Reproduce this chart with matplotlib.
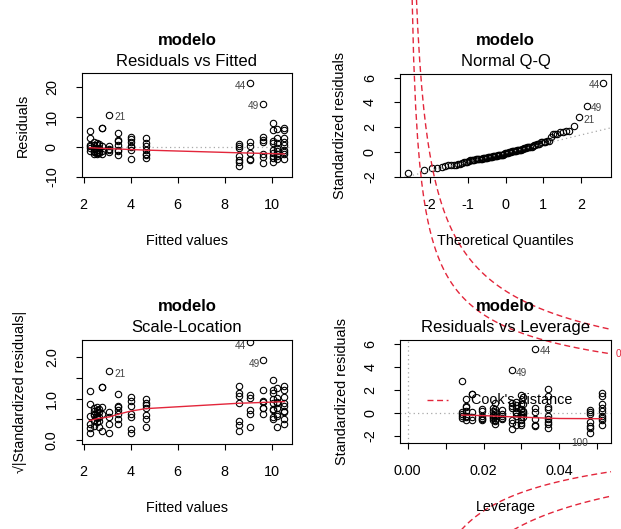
import math
import numpy as np
import matplotlib
matplotlib.use('Agg')
import matplotlib.pyplot as plt

plt.rcParams['font.family'] = ['Liberation Sans', 'DejaVu Sans']
plt.rcParams['axes.unicode_minus'] = False

## -----------------------------------------------------------------------------
## data (lm diagnostics of "modelo", n = 100)

group_fitted = [2.25, 2.45, 2.55, 2.65, 2.80, 3.10, 3.45, 4.00, 4.65,
                8.60, 9.10, 9.65, 10.05, 10.25, 10.55]
group_hat = [0.0305, 0.0226, 0.0195, 0.0248, 0.0169, 0.0142, 0.0153, 0.0286, 0.0230,
             0.0481, 0.0336, 0.0274, 0.0371, 0.0300, 0.0512]
group_std_resid = [
    [1.42, 0.76, -0.35, 0.15, -0.08, 0.03],
    [0.40, 0.12, -0.22, -0.36, -0.48, -0.60],
    [0.30, 0.18, -0.28, -0.42, -0.52, -0.64],
    [0.22, -0.10, -0.30, -0.45, -0.58],
    [1.66, 1.64, 0.05, -0.40, -0.62],
    [-0.47, -0.32, -0.15, 0.03],
    [1.23, 0.62, 0.52, 0.15, -0.26, -0.40, -0.67],
    [0.90, 0.67, 0.40, -0.31, 0.07, -0.03, -1.06],
    [0.81, 0.36, 0.10, -0.27, -0.59, -0.72, -0.97],
    [0.21, 0.05, -0.13, -0.79, -1.14, -1.31],
    [0.40, 0.10, -0.53, -1.05, -1.19],
    [0.85, 0.60, 0.40, -0.60, -0.90, -1.45],
    [2.08, 1.44, 0.53, 0.30, -0.25, -0.56, -0.80, -1.00, -1.30],
    [1.57, 0.80, 0.35, -0.10, -0.40, -0.60, -0.85, -1.05],
    [1.70, 1.45, 0.80, 0.45, 0.15, -0.26, -0.50, -0.66, -1.06],
]

# labelled observations
id_labels = ['21', '44', '49', '100']
id_group = [5, 10, 11, 9]
id_std_resid = [2.78, 5.60, 3.73, -1.73]

sigma = 3.87          # residual standard error
n_params = 3
cook_levels = [0.5, 1.0]

smooth_fit_x = [2.25, 3.0, 4.0, 4.65, 8.6, 9.65, 10.55]
smooth_fit_y = [-0.3, -0.6, -0.9, -1.1, -2.0, -2.2, -2.4]
smooth_scale_x = [2.25, 2.6, 3.1, 3.45, 4.0, 4.65, 8.6, 9.65, 10.55]
smooth_scale_y = [0.47, 0.52, 0.56, 0.62, 0.70, 0.76, 0.89, 0.91, 0.93]
smooth_lev_x = [0.0142, 0.02, 0.025, 0.03, 0.035, 0.04, 0.0512]
smooth_lev_y = [-0.2, -0.25, -0.32, -0.38, -0.45, -0.5, -0.52]

## -----------------------------------------------------------------------------
## assemble

fitted, hat, rstd = [], [], []
for f, h, rs in zip(group_fitted, group_hat, group_std_resid):
    fitted += [f] * len(rs)
    hat += [h] * len(rs)
    rstd += rs
for g, r in zip(id_group, id_std_resid):
    fitted.append(group_fitted[g])
    hat.append(group_hat[g])
    rstd.append(r)
fitted = np.array(fitted)
hat = np.array(hat)
rstd = np.array(rstd)
resid = rstd * sigma * np.sqrt(1 - hat)
n = len(rstd)
nid = len(id_labels)
idx_id = np.arange(n - nid, n)


def qnorm(p):
    lo, hi = -8.0, 8.0
    for _ in range(60):
        mid = 0.5 * (lo + hi)
        if 0.5 * (1 + math.erf(mid / math.sqrt(2))) < p:
            lo = mid
        else:
            hi = mid
    return 0.5 * (lo + hi)


order = np.argsort(rstd)
theo = np.array([qnorm((i - 0.5) / n) for i in range(1, n + 1)])
qq_x = np.empty(n)
qq_x[order] = theo

## -----------------------------------------------------------------------------
## figure

W, H = 621, 529
fig = plt.figure(figsize=(W / 100, H / 100), dpi=100)
RED = '#e3263b'
GRAY = '#a8a8a8'
FS = 10.4


def box(l, t, r, b):
    ax = fig.add_axes([l / W, 1 - b / H, (r - l) / W, (b - t) / H])
    for s in ax.spines.values():
        s.set_linewidth(0.8)
    ax.tick_params(direction='out', length=4.1, width=0.8, labelsize=FS, pad=11)
    ax.tick_params(axis='y', pad=12.5)
    return ax


def ftext(x, y, s, **kw):
    fig.text(x / W, 1 - y / H, s, **kw)


def frame(ax, l, t, r, b, title, xlab, ylab, ylab_x):
    cx = (l + r) / 2
    ftext(cx, t - 33, 'modelo', ha='center', va='center', fontsize=12, fontweight='bold')
    ftext(cx, t - 12, title, ha='center', va='center', fontsize=12)
    ftext(cx, b + 64, xlab, ha='center', va='center', fontsize=FS)
    ftext(ylab_x, (t + b) / 2, ylab, ha='center', va='center', rotation=90, fontsize=FS)


def yticks(ax, ticks, labels):
    ax.set_yticks(ticks, labels)
    plt.setp(ax.get_yticklabels(), rotation=90, va='center')


def points(ax, x, y):
    ax.plot(x, y, 'o', mfc='none', mec='black', ms=4.6, mew=0.8)


def ids(ax, x, y, offsets):
    for lab, i in zip(id_labels, idx_id):
        if lab in offsets:
            dx, dy = offsets[lab]
            ax.annotate(lab, (x[i], y[i]), xytext=(dx * 0.72, -dy * 0.72),
                        textcoords='offset points', ha='center', va='center',
                        fontsize=7.2, color='#444444', annotation_clip=False)


## panel 1: residuals vs fitted
ax1 = box(82, 73, 292, 177)
ax1.axhline(0, color=GRAY, lw=0.9, ls=(0, (1, 2.5)))
points(ax1, fitted, resid)
ax1.plot(smooth_fit_x, smooth_fit_y, color=RED, lw=1)
ax1.set_xlim(1.93, 10.87)
ax1.set_ylim(-10.1, 24.7)
ax1.set_xticks([2, 4, 6, 8, 10])
yticks(ax1, [-10, 0, 10, 20], ['-10', '0', '10', '20'])
ids(ax1, fitted, resid, {'21': (10.7, 1.7), '44': (-10, 2.7), '49': (-10, 2)})
frame(ax1, 82, 73, 292, 177, 'Residuals vs Fitted', 'Fitted values', 'Residuals', 23)

## panel 2: normal Q-Q
ax2 = box(400, 73.7, 611, 177)
points(ax2, qq_x, rstd)
q1, q3 = np.percentile(rstd, [25, 75])
z = qnorm(0.75)
slope = (q3 - q1) / (2 * z)
inter = q1 + slope * z
xl = np.array([-2.8, 2.8])
ax2.plot(xl, inter + slope * xl, color=GRAY, lw=0.9, ls=(0, (1, 2.5)))
ax2.set_xlim(-2.8, 2.8)
ax2.set_ylim(-2.03, 6.32)
ax2.set_xticks([-2, -1, 0, 1, 2], ['-2', '-1', '0', '1', '2'])
yticks(ax2, [-2, 0, 2, 4, 6], ['-2', '0', '2', '4', '6'])
ids(ax2, qq_x, rstd, {'21': (10, 2.4), '44': (-8, 2.7), '49': (9, 2.3)})
frame(ax2, 400, 73.7, 611, 177, 'Normal Q-Q', 'Theoretical Quantiles',
      'Standardized residuals', 340)

## panel 3: scale-location
ax3 = box(82, 339.7, 292, 443.7)
sl = np.sqrt(np.abs(rstd))
points(ax3, fitted, sl)
ax3.plot(smooth_scale_x, smooth_scale_y, color=RED, lw=1)
ax3.set_xlim(1.93, 10.87)
ax3.set_ylim(-0.09, 2.43)
ax3.set_xticks([2, 4, 6, 8, 10])
yticks(ax3, [0, 0.5, 1, 1.5, 2], ['0.0', '', '1.0', '', '2.0'])
ids(ax3, fitted, sl, {'21': (10.7, 2.6), '44': (-10, 3.3), '49': (-9.4, 3.3)})
frame(ax3, 82, 339.7, 292, 443.7, 'Scale-Location', 'Fitted values',
      '\u221a|Standardized residuals|', 20)

## panel 4: residuals vs leverage
ax4 = box(400.3, 339.7, 611, 443)
ax4.axhline(0, color=GRAY, lw=0.9, ls=(0, (1, 2.5)))
ax4.axvline(0, color=GRAY, lw=0.9, ls=(0, (1, 2.5)))
points(ax4, hat, rstd)
ax4.plot(smooth_lev_x, smooth_lev_y, color=RED, lw=1)
xlim4 = (-0.00195, 0.0536)
ylim4 = (-2.64, 6.38)
ax4.set_xlim(xlim4)
ax4.set_ylim(ylim4)
ax4.set_xticks([0, 0.01, 0.02, 0.03, 0.04, 0.05], ['0.00', '', '0.02', '', '0.04', ''])
yticks(ax4, [-2, 0, 2, 4, 6], ['-2', '0', '2', '4', '6'])
ids(ax4, hat, rstd, {'44': (10.3, 2.7), '49': (10, 2.7), '100': (-10.5, 10)})

hh = np.linspace(min(hat.min(), hat.max() / 100), xlim4[1], 101)
for d in cook_levels:
    cl = np.sqrt(d * n_params * (1 - hh) / hh)
    for sgn in (1, -1):
        ax4.plot(hh, sgn * cl, color=RED, lw=1, ls=(0, (4.3, 2.6)), clip_on=False)
    aty = math.sqrt(d * n_params * (1 - xlim4[1]) / xlim4[1])
    if ylim4[0] < aty < ylim4[1]:
        ax4.annotate('%g' % d, (1.0, aty), xycoords=('axes fraction', 'data'),
                     xytext=(3, 0), textcoords='offset points', ha='left', va='center',
                     fontsize=7.2, color=RED, annotation_clip=False)

# legend
fig.add_artist(plt.Line2D([426.7 / W, 448 / W], [1 - 400 / H, 1 - 400 / H],
                          color=RED, lw=1, ls=(0, (4.3, 2.6))))
ftext(471, 400.5, "Cook's distance", ha='left', va='center', fontsize=FS)
frame(ax4, 400.3, 339.7, 611, 443, 'Residuals vs Leverage', 'Leverage',
      'Standardized residuals', 342)

fig.savefig('out.png', dpi=100)
